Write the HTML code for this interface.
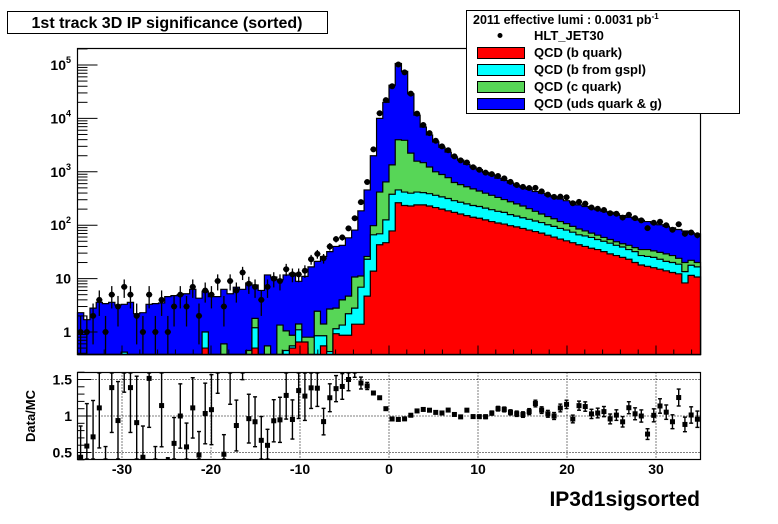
<!DOCTYPE html>
<html><head><meta charset="utf-8"><style>
body{margin:0;background:#fff;}
svg{display:block;font-family:"Liberation Sans",Arial,sans-serif;font-weight:bold;}
</style></head><body>
<svg id="chart" width="778" height="524" viewBox="0 0 778 524" xmlns="http://www.w3.org/2000/svg">
<rect x="0" y="0" width="778" height="524" fill="#fff"/>
<g id="upper"></g>
<g id="lower"></g>
<g>
<rect x="7.5" y="11.5" width="320" height="22" fill="#fff" stroke="#000"/>
<text x="167" y="28" font-size="16" text-anchor="middle">1st track 3D IP significance (sorted)</text>
</g>
<g>
<rect x="466.5" y="10.5" width="273" height="103" fill="#fff" stroke="#000"/>
<text x="473" y="24" font-size="12.5">2011 effective lumi : 0.0031  pb<tspan dy="-5" font-size="8">-1</tspan></text>
<g><circle cx="500" cy="35.5" r="2.5" fill="#000"/><text x="534" y="40" font-size="13">HLT_JET30</text></g>
<g><rect x="477.5" y="47.5" width="47" height="11" fill="#ff0000" stroke="#000"/><text x="534" y="57" font-size="13">QCD (b quark)</text></g>
<g><rect x="477.5" y="64.5" width="47" height="11" fill="#00ffff" stroke="#000"/><text x="534" y="74" font-size="13">QCD (b from gspl)</text></g>
<g><rect x="477.5" y="81.5" width="47" height="11" fill="#57d657" stroke="#000"/><text x="534" y="91" font-size="13">QCD (c quark)</text></g>
<g><rect x="477.5" y="98.5" width="47" height="11" fill="#0000ff" stroke="#000"/><text x="534" y="108" font-size="13">QCD (uds quark &amp; g)</text></g>
</g>
<text x="0" y="0" font-size="13" transform="translate(35,416) rotate(-90)" text-anchor="middle">Data/MC</text>
<text x="700" y="506" font-size="21" text-anchor="end">IP3d1sigsorted</text>
</svg>
<script>
// 100 bins from -35 to 35 ; cumulative stack tops
const binEdgesMin = -35, binEdgesMax = 35, nBins = 100;
const stackB = [0,0,0,0,0,0,0,0,0,0, 0,0,0,0,0,0,0,0,0,0,
 0.5,0,0,0,0,0,0,0,0.5,0, 0,0,0,0,0.5,0.65,0.65,0,0,0.55,
 0,0.93,0.87,0.87,1.4,1.4,4.7,13.8,43,47, 78,263,234,229,240,240,229,214,200,186,
 174,162,151,141,135,126,117,110,105,98, 93,87,81,76,71,65,60,55,51,47,
 43,40,37,35,32,29,27,25,23,20, 18,17,16,15,14,13,12.3,8.3,11.5,10.7];
const stackBG = [0,0,0,0,0,0,0,0.42,0,0, 0,0,0,0,0,0,0,0,0,0,
 1.0,0,0,0,0,0,0,0,1.2,0, 0,0,0,0.45,0.55,1.1,0.5,0,0.85,0.85,
 0.43,1.15,1.35,2.2,2.8,6.9,23,66,69,126, 380,457,417,398,417,407,389,363,339,316,
 288,269,251,234,224,209,195,182,174,158, 148,138,129,120,112,102,95,87,81,74,
 66,63,59,54,50,46,42,39,35,32, 27,26,25,23,21,20,18.6,13.5,17.8,16.6];
const stackBGC = [0,0,0,0,0,0,0,0.42,0,0, 0,0,0,0,0,0,0,0,0,0,
 1.0,0,0,0.6,0,0,0,0.45,1.8,0, 0.55,0,1.35,1.05,0.87,1.41,0.8,0.8,2.45,1.41,
 2.7,2.8,4.0,4.7,10.7,11.2,26,98,417,646, 1350,3980,3890,2240,1580,1480,1230,1000,890,776,
 631,575,525,479,437,398,363,331,302,275, 251,229,204,182,162,145,132,117,107,95,
 85,78,71,65,59,54,49,45,42,38, 35,35,33,31,29,27,24,20,22,20];
const stackAll = [2.3,1.7,2.8,3.6,3.4,3.6,3.2,3.3,3.6,2.2, 2.3,3.3,3.4,3.5,4.6,4.8,5.0,5.2,6.3,4.3,
 5.8,4.6,4.6,6.3,5.2,6.9,6.3,8.3,7.6,6.0, 11.7,10.7,9.5,11.7,12.6,8.9,11,16.6,21,26,
 32,40,42,58,81,186,457,2000,10000,20000, 41700,107000,75900,28800,11500,6900,4900,3630,2880,2340,
 1900,1660,1380,1230,1100,977,871,759,692,617, 550,513,468,427,398,363,339,309,288,269,
 240,224,209,195,182,174,162,151,141,132, 123,117,110,102,95,89,83,78,72,68];
const dataCounts = [1,1,2,4,1,5,3,7,5,2, 1,5,1,4,1,3,5,3,7,2,
 6,5,9,3,9,6,13,8,7,4, 7,10,9,15,12,12,14,23,29,24,
 40,55,59,87,135,270,645,2630,12500,22000, 40000,102000,72900,29100,12300,7520,5290,3810,3000,2530,
 1940,1640,1490,1220,1090,967,906,835,754,648, 567,523,496,500,430,374,339,343,334,258,
 274,253,215,203,193,167,164,139,157,136, 123,88,111,116,100,82,104,69,73,65];
const yTickDecades = [0,1,2,3,4,5];
const xTickLabels = [-30,-20,-10,0,10,20,30];
const ratioTicks = [0.5,1,1.5];

const NS="http://www.w3.org/2000/svg";
const FL=77.5, FR=700.5, UT=48.5, UB=354.5, LT=372.5, LB=459.5;
function xs(v){return FL+(v-binEdgesMin)/(binEdgesMax-binEdgesMin)*(FR-FL);}
function yU(v){ if(!(v>0)) return UB+5; return 332-53.4*Math.log10(v);}
function yL(r){return 416-73*(r-1);}
function mk(tag,attrs,parent){const e=document.createElementNS(NS,tag);for(const k in attrs)e.setAttribute(k,attrs[k]);parent.appendChild(e);return e;}
const up=document.getElementById('upper'), lo=document.getElementById('lower');
const bw=(binEdgesMax-binEdgesMin)/nBins;
function clampU(y){return Math.max(UT,Math.min(UB,y));}
const layers=[[stackAll,'#0000ff','stack-uds'],[stackBGC,'#57d657','stack-c-quark'],[stackBG,'#00ffff','stack-b-gspl'],[stackB,'#ff0000','stack-b-quark']];
mk('rect',{x:FL,y:UT,width:FR-FL,height:UB-UT,fill:'#fff'},up);
layers.forEach(([arr,col,name])=>{
  let d='M'+xs(binEdgesMin)+','+UB;
  for(let i=0;i<nBins;i++){const t=clampU(yU(arr[i]));const a=xs(binEdgesMin+i*bw),b=xs(binEdgesMin+(i+1)*bw);d+=' L'+a+','+t+' L'+b+','+t;}
  d+=' L'+xs(binEdgesMax)+','+UB+' Z';
  const p=mk('path',{d:d,fill:col,stroke:'#000','stroke-width':1.2},up);
  
  
});
// data points
for(let i=0;i<nBins;i++){
  const n=dataCounts[i]; if(!(n>0))continue;
  const cx=xs(binEdgesMin+(i+0.5)*bw), e=Math.sqrt(n);
  const g=mk('g',{},up);
  
  
  const y1=clampU(yU(n+e)), y0=clampU(yU(n-e)), yc=yU(n);
  mk('line',{x1:cx,x2:cx,y1:y1,y2:y0,stroke:'#000','stroke-width':1.3},g);
  mk('line',{x1:cx-3.1,x2:cx+3.1,y1:yc,y2:yc,stroke:'#000','stroke-width':1.3},g);
  mk('circle',{cx:cx,cy:yc,r:3,fill:'#000'},g);
}
// frame & axes upper
const fu=mk('rect',{x:FL,y:UT,width:FR-FL,height:UB-UT,fill:'none',stroke:'#000','stroke-width':1.2},up);


for(let d=-1;d<=5;d++){for(let m=1;m<=9;m++){const v=m*Math.pow(10,d);const y=yU(v);if(y<UT||y>UB)continue;
  mk('line',{x1:FL,x2:FL+(m==1?20:10),y1:y,y2:y,stroke:'#000','stroke-width':1},up);}}
yTickDecades.forEach(d=>{const y=yU(Math.pow(10,d));
  const t=mk('text',{x:71,y:y+5,'font-size':14,'text-anchor':'end'},up);
  
  
  if(d===0)t.textContent='1';else if(d===1)t.textContent='10';else{t.textContent='10';const s=document.createElementNS(NS,'tspan');s.setAttribute('dy','-7');s.setAttribute('font-size','9');s.textContent=String(d);t.appendChild(s);}
});
for(let v=-34;v<=34;v+=2){const x=xs(v);const big=v%10===0;
  mk('line',{x1:x,x2:x,y1:UB,y2:UB-(big?9:5),stroke:'#000','stroke-width':1},up);
  mk('line',{x1:x,x2:x,y1:LB,y2:LB-(big?5:3),stroke:'#000','stroke-width':1},lo);}
// lower pad
mk('rect',{x:FL,y:LT,width:FR-FL,height:LB-LT,fill:'#fff'},lo);
ratioTicks.forEach(r=>{const y=yL(r);mk('line',{x1:FL,x2:FR,y1:y,y2:y,stroke:'#000','stroke-width':1,'stroke-dasharray':'1,2'},lo);
  const t=mk('text',{x:72,y:y+5,'font-size':14,'text-anchor':'end'},lo);t.textContent=String(r);
  
  });
xTickLabels.forEach(v=>{const x=xs(v);mk('line',{x1:x,x2:x,y1:LT,y2:LB,stroke:'#000','stroke-width':1,'stroke-dasharray':'1,2'},lo);
  const t=mk('text',{x:x,y:474,'font-size':14,'text-anchor':'middle'},lo);t.textContent=String(v);
  
  });
for(let r=0.4;r<=1.61;r+=0.1){const y=yL(r);const big=Math.abs(r*2-Math.round(r*2))<0.01;
  mk('line',{x1:FL,x2:FL+(big?14:7),y1:y,y2:y,stroke:'#000','stroke-width':1},lo);}
const clip=mk('clipPath',{id:'lc'},lo);mk('rect',{x:FL,y:LT,width:FR-FL,height:LB-LT},clip);
const lg=mk('g',{'clip-path':'url(#lc)'},lo);
function clampL(y){return Math.max(LT,Math.min(LB,y));}
for(let i=0;i<nBins;i++){
  const n=dataCounts[i], m=stackAll[i]; if(!(n>0)||!(m>0))continue;
  const r=n/m, e=r/Math.sqrt(n), cx=xs(binEdgesMin+(i+0.5)*bw);
  const g=mk('g',{},lg);
  
  
  const y1=clampL(yL(r+e)), y0=clampL(yL(r-e));
  mk('line',{x1:cx,x2:cx,y1:y1,y2:y0,stroke:'#000','stroke-width':1.4},g);
  mk('line',{x1:cx-2,x2:cx+2,y1:y1+0.5,y2:y1+0.5,stroke:'#000','stroke-width':1.4},g);
  mk('line',{x1:cx-2,x2:cx+2,y1:y0-0.5,y2:y0-0.5,stroke:'#000','stroke-width':1.4},g);
  mk('rect',{x:cx-2.5,y:yL(r)-2.5,width:5,height:5,fill:'#000'},g);
}
const fl=mk('rect',{x:FL,y:LT,width:FR-FL,height:LB-LT,fill:'none',stroke:'#000','stroke-width':1.2},lo);


</script>
</body></html>
